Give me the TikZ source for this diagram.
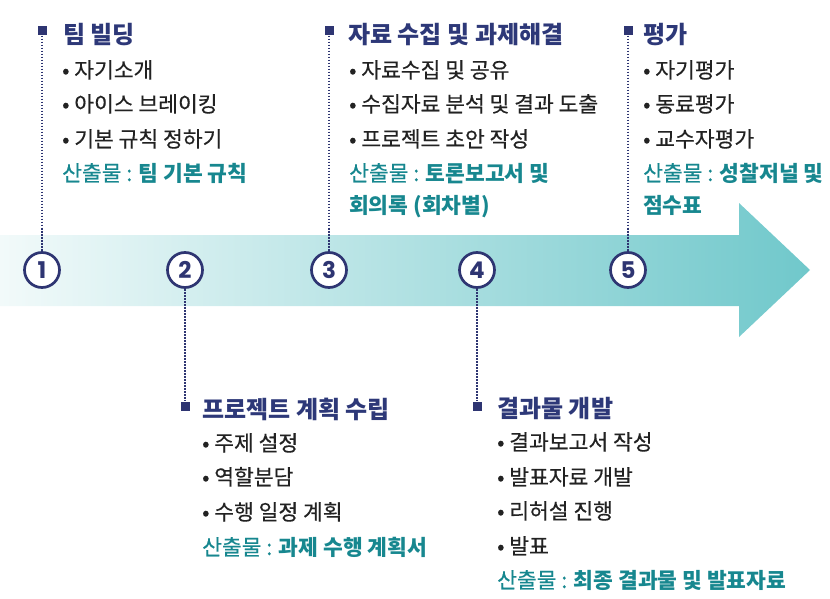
\documentclass[tikz,border=0pt]{standalone}
\usepackage{fontspec}
\setmainfont{Noto Sans CJK KR}
\newfontfamily\medfont{Noto Sans CJK KR}[FakeBold=0.4]
\newfontfamily\numfont{Poppins}
\definecolor{navy}{HTML}{2E3572}
\definecolor{titlec}{HTML}{2D3878}
\definecolor{bodyc}{HTML}{222222}
\definecolor{tealc}{HTML}{17878F}
\definecolor{arrowL}{HTML}{F2FAFA}
\definecolor{arrowR}{HTML}{70C8CB}
\newcommand{\bd}[1]{{\normalfont\bfseries #1}}
\tikzset{
  circ/.style={circle, draw=navy, line width=2.7pt, fill=white, minimum size=35pt, inner sep=0pt,
    text=navy, font=\numfont\bfseries\fontsize{23}{23}\selectfont},
  sq/.style={rectangle, fill=navy, minimum size=9pt, inner sep=0pt},
  dotline/.style={navy, line width=2.8pt, dash pattern=on 1.8pt off 1.2pt},
  ttl/.style={anchor=base west, inner sep=0pt, text=titlec, font=\bfseries\fontsize{24}{24}\selectfont},
  itm/.style={anchor=base west, inner sep=0pt, text=bodyc, font=\medfont\fontsize{21.5}{21.5}\selectfont},
  outp/.style={anchor=base west, inner sep=0pt, text=tealc, font=\medfont\fontsize{21.5}{21.5}\selectfont},
}
\begin{document}
\begin{tikzpicture}[x=1pt, y=-1pt]
\useasboundingbox (0,0) rectangle (830,599);
% arrow
\shade[left color=arrowL, right color=arrowR]
  (0,235) -- (739,235) -- (739,203) -- (810,270) -- (739,337) -- (739,306) -- (0,306) -- cycle;
% circles
\node[circ] (c1) at (42,270) {1};
\node[circ] (c2) at (185,270) {2};
\node[circ] (c3) at (329,270) {3};
\node[circ] (c4) at (477,270) {4};
\node[circ] (c5) at (628,270) {5};
% squares
\node[sq] (s1) at (42,31) {};
\node[sq] (s2) at (185,406) {};
\node[sq] (s3) at (329,31) {};
\node[sq] (s4) at (477,406) {};
\node[sq] (s5) at (628,31) {};
% dotted connectors
\draw[dotline] (s1) -- (c1);
\draw[dotline] (c2) -- (s2);
\draw[dotline] (s3) -- (c3);
\draw[dotline] (c4) -- (s4);
\draw[dotline] (s5) -- (c5);
% block 1
\node[ttl] (t1) at (63,44) {팀 빌딩};
\node[itm] (t1a) at (62,78) {• 자기소개};
\node[itm] (t1b) at (62,112) {• 아이스 브레이킹};
\node[itm] (t1c) at (62,147) {• 기본 규칙 정하기};
\node[outp] (t1d) at (62,181) {산출물 : \bd{팀 기본 규칙}};
% block 3
\node[ttl] (t3) at (348,44) {자료 수집 및 과제해결};
\node[itm] (t3a) at (349,78) {• 자료수집 및 공유};
\node[itm] (t3b) at (349,112) {• 수집자료 분석 및 결과 도출};
\node[itm] (t3c) at (349,147) {• 프로젝트 초안 작성};
\node[outp] (t3d) at (349,181) {산출물 : \bd{토론보고서 및}};
\node[outp] (t3e) at (349,213) {\bd{회의록 (회차별)}};
% block 5
\node[ttl] (t5) at (643,44) {평가};
\node[itm] (t5a) at (643,78) {• 자기평가};
\node[itm] (t5b) at (643,112) {• 동료평가};
\node[itm] (t5c) at (643,147) {• 교수자평가};
\node[outp] (t5d) at (643,181) {산출물 : \bd{성찰저널 및}};
\node[outp] (t5e) at (643,213) {\bd{점수표}};
% block 2
\node[ttl] (t2) at (202,418) {프로젝트 계획 수립};
\node[itm] (t2a) at (202,451) {• 주제 설정};
\node[itm] (t2b) at (202,485) {• 역할분담};
\node[itm] (t2c) at (202,520) {• 수행 일정 계획};
\node[outp] (t2d) at (202,555) {산출물 : \bd{과제 수행 계획서}};
% block 4
\node[ttl] (t4) at (497,417) {결과물 개발};
\node[itm] (t4a) at (497,450) {• 결과보고서 작성};
\node[itm] (t4b) at (497,485) {• 발표자료 개발};
\node[itm] (t4c) at (497,519) {• 리허설 진행};
\node[itm] (t4d) at (497,554) {• 발표};
\node[outp] (t4e) at (497,588) {산출물 : \bd{최종 결과물 및 발표자료}};
\end{tikzpicture}
\end{document}
